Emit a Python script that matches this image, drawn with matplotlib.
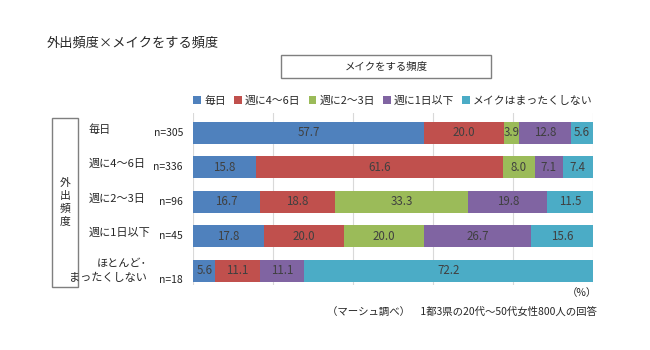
import numpy as np
import matplotlib
matplotlib.use("Agg")
import matplotlib.pyplot as plt
from matplotlib.patches import Rectangle

plt.rcParams['font.family'] = ['Noto Sans CJK JP', 'DejaVu Sans']

# Data
rows = ["毎日", "週に4～6日", "週に2～3日", "週に1日以下", "ほとんど･\nまったくしない"]
n_labels = ["n=305", "n=336", "n=96", "n=45", "n=18"]
series = ["毎日", "週に4～6日", "週に2～3日", "週に1日以下", "メイクはまったくしない"]
daily = [57.7, 15.8, 16.7, 17.8, 5.6]
week_4_6 = [20.0, 61.6, 18.8, 20.0, 11.1]
week_2_3 = [3.9, 8.0, 33.3, 20.0, 0.0]
week_1 = [12.8, 7.1, 19.8, 26.7, 11.1]
never = [5.6, 7.4, 11.5, 15.6, 72.2]
values = [daily, week_4_6, week_2_3, week_1, never]
colors = ["#4F81BD", "#C0504D", "#9BBB59", "#8064A2", "#4BACC6"]

fig = plt.figure(figsize=(6.5, 3.5), dpi=100)
ax = fig.add_axes([193 / 650, 1 - 285 / 350, 400 / 650, 172 / 350])

y = np.arange(len(rows))
left = np.zeros(len(rows))
for name, vals, c in zip(series, values, colors):
    vals = np.array(vals)
    bars = ax.barh(y, vals, left=left, height=0.64, color=c, label=name, zorder=2)
    for b, v in zip(bars, vals):
        if v > 0:
            ax.text(b.get_x() + b.get_width() / 2, b.get_y() + b.get_height() / 2,
                    f"{v:.1f}", ha="center", va="center", fontsize=8.3,
                    color="#404040", zorder=3)
    left += vals

ax.set_xlim(0, 100)
ax.set_ylim(4.41, -0.58)
ax.set_xticks([0, 20, 40, 60, 80, 100])
ax.grid(axis="x", color="#D9D9D9", linewidth=0.8, zorder=0)
ax.tick_params(left=False, bottom=False, labelleft=False, labelbottom=False)
for s in ax.spines.values():
    s.set_visible(False)

# row labels and n
for i, (r, n) in enumerate(zip(rows, n_labels)):
    yy = ax.transData.transform((0, i))[1]
    yf = yy / fig.bbox.height
    if "\n" in r:
        fig.text(147 / 650, yf, r, ha="right", va="center", fontsize=8,
                 color="#262626", linespacing=1.5)
        fig.text(183 / 650, yf - 0.025, n, ha="right", va="center", fontsize=7.5,
                 color="#262626")
    else:
        fig.text(89 / 650, yf + 0.01, r, ha="left", va="center", fontsize=8,
                 color="#262626")
        fig.text(183 / 650, yf, n, ha="right", va="center", fontsize=7.5,
                 color="#262626")

leg = ax.legend(loc="lower center", bbox_to_anchor=(0.5, 1.0), ncol=5, frameon=False,
                fontsize=7.8, handlelength=0.7, handleheight=0.7, handletextpad=0.3,
                columnspacing=0.75, borderaxespad=0.25)
for t in leg.get_texts():
    t.set_color("#262626")

# title
fig.text(47 / 650, 1 - 43 / 350, "外出頻度×メイクをする頻度", ha="left", va="center",
         fontsize=9.5, color="#262626")

# header box
fig.patches.append(Rectangle((281 / 650, 1 - 78 / 350), 210 / 650, 23 / 350,
                             transform=fig.transFigure, fill=False,
                             edgecolor="#7F7F7F", linewidth=1))
fig.text(386 / 650, 1 - 66.5 / 350, "メイクをする頻度", ha="center", va="center",
         fontsize=7.5, color="#262626")

# left box
fig.patches.append(Rectangle((52 / 650, 1 - 287 / 350), 26 / 650, 169 / 350,
                             transform=fig.transFigure, fill=False,
                             edgecolor="#7F7F7F", linewidth=1))
fig.text(65 / 650, 1 - 202 / 350, "外\n出\n頻\n度", ha="center", va="center",
         fontsize=7.8, color="#262626", linespacing=1.35)

fig.text(597 / 650, 1 - 293 / 350, "（%）", ha="right", va="center", fontsize=7.5,
         color="#262626")
fig.text(597 / 650, 1 - 312 / 350,
         "（マーシュ調べ）　1都3県の20代～50代女性800人の回答",
         ha="right", va="center", fontsize=7.5, color="#262626")

fig.savefig("out.png", dpi=100, facecolor="white")
